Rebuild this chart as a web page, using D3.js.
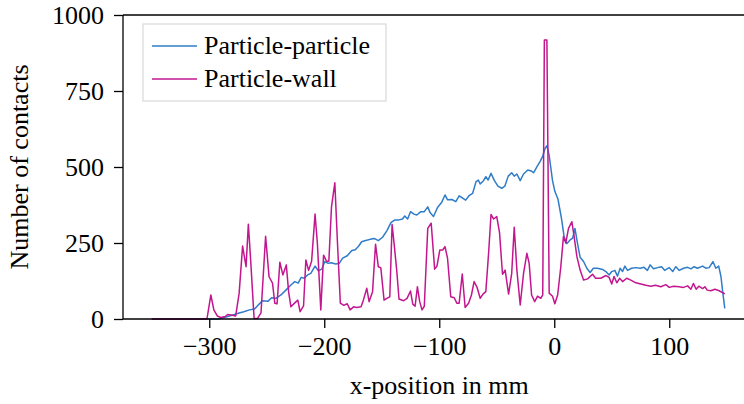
<!DOCTYPE html>
<html>
<head>
<meta charset="utf-8">
<script src="https://cdn.jsdelivr.net/npm/d3@7"></script>
<style>
  body { margin: 0; background: #fff; }
  svg text { font-family: "Liberation Serif", "Times New Roman", serif; fill: #000; }
  .axis path, .axis line { stroke: #000; stroke-width: 1.3; }
</style>
</head>
<body>
<div id="chart"></div>
<script>
//
// contact counts along the x-position
//

var ppX = [-350, -292, -284, -278, -274, -270, -265, -260.6, -256.6, -253.7, -249, -245.8, -242, -237.7, -233.4, -229,
  -225.6, -222.7, -220, -217.5, -214.5, -211.7, -208, -205, -202, -199.5, -196.6, -194, -190, -187, -184, -180, -176,
  -173, -170, -167.5, -164, -160, -156.6, -153, -149.3, -145.6, -142, -138.6, -135, -132, -130, -127.5, -125, -122,
  -119.5, -116, -113, -110, -108, -105, -101.5, -98, -95, -92.8, -89, -85.6, -82.7, -79.7, -77, -74, -71, -68, -66,
  -64.4, -61.5, -59.5, -57.5, -55, -52, -49, -45.6, -43, -40, -37, -34.8, -32.5, -29.6, -26.7, -23, -20, -18, -15,
  -12, -10, -8, -6.4, -4.5, -1.5, 0.5, 3.2, 6.3, 8.6, 11, 13.8, 16, 18, 20.2, 22.5, 25.5, 28.3, 31.2, 34, 37.6, 42,
  44.9, 47.7, 50, 52.7, 55, 57.3, 59.4, 61.4, 63.7, 67.2, 71, 74.7, 78, 81, 83.4, 86.3, 89.8, 93.3, 96, 100, 103,
  105.7, 108.6, 112.4, 116, 118.8, 121.6, 124.6, 129, 131.8, 134.7, 138, 140.5, 143, 145, 146.3, 148.3];
var ppY = [0, 0, 8, 15, 20, 24, 30, 33, 49, 60, 58, 70, 68, 79, 95, 112,
  123, 118, 137, 134, 145, 150, 174, 158, 165, 189, 183, 185, 181, 183, 200, 208, 225,
  228, 240, 254, 258, 262, 265, 258, 269, 290, 317, 326, 326, 329, 339, 329, 353, 345,
  342, 353, 353, 369, 350, 337, 367, 383, 408, 392, 393, 386, 405, 398, 391, 406, 413, 452, 457,
  444, 455, 468, 457, 479, 455, 437, 430, 437, 470, 481, 470, 477, 455, 477, 490, 487, 481, 501,
  520, 536, 561, 570, 540, 455, 420, 395, 330, 270, 248, 260, 266, 298, 249, 203, 189, 167, 153, 167, 167, 163,
  156, 145, 156, 160, 141, 167, 156, 174, 160, 167, 169, 167, 170, 160, 178, 165, 169, 172, 160, 169, 156,
  172, 160, 167, 170, 165, 172, 167, 174, 167, 169, 189, 167, 174, 139, 95, 35];

var pwX = [-350, -302, -298.6, -296, -293, -290, -286, -284, -280, -277, -274, -271, -268, -266, -264, -261, -258, -255,
  -251, -248, -245, -243, -241, -238.6, -236, -233, -231, -229, -225.6, -223, -221, -218, -216, -213.6, -211, -208,
  -206, -203, -200.6, -198, -196, -193.7, -190.8, -188.5, -186, -183, -180, -177.5, -174.5, -171.7, -168, -166, -163,
  -161, -158, -155.4, -153, -150.8, -148, -145.6, -143, -141, -139, -137, -135, -131, -128, -125, -123, -121, -119,
  -117, -115, -113, -110, -107, -104, -102, -99.5, -97, -95, -92.8, -90, -87, -84.7, -82.7, -80, -77.5, -74.5, -72,
  -69.7, -67.3, -64.4, -62, -59.5, -57, -55, -52.8, -50, -47.6, -45, -42.7, -39.7, -37, -34.8, -32.5, -29.6, -26.7,
  -23.8, -21.8, -19.7, -17, -14.5, -11.7, -10, -8.6, -6.4, -4.4, -1.5, 0.5, 3, 5.7, 8, 10, 12.4, 15.3, 17.3, 19.7,
  22.5, 25.5, 29, 33.3, 36, 40.5, 45, 47.7, 50, 52, 54.4, 56.8, 59.4, 63, 66.6, 71, 75.3, 79.7, 84, 88, 92.7, 97,
  100, 104, 108.6, 112.4, 116, 118.8, 121, 123.4, 125.7, 129, 131, 133, 136, 139.7, 143.4, 146.3, 148.3];
var pwY = [0, 0, 79, 30, 10, 5, 8, 15, 12, 10, 85, 240, 172, 312, 194, 2, 2, 20,
  272, 139, 118, 52, 50, 187, 145, 178, 90, 40, 53, 62, 24, 43, 194, 160, 190, 345,
  250, 30, 210, 190, 190, 369, 448, 250, 52, 45, 50, 30, 40, 38, 40, 62, 101,
  57, 90, 246, 172, 168, 62, 68, 73, 311, 238, 161, 66, 60, 68, 92, 49, 42, 106,
  57, 30, 42, 298, 315, 164, 174, 227, 227, 238, 200, 73, 70, 52, 52, 148, 38, 52, 79,
  123, 106, 68, 82, 90, 221, 344, 329, 337, 285, 147, 161, 82, 150, 302, 161, 46, 150,
  216, 183, 79, 57, 75, 68, 79, 918, 918, 85, 75, 50, 80, 172, 271, 250, 298, 320, 271, 205,
  161, 128, 132, 147, 134, 134, 143, 137, 115, 140, 119, 134, 123, 134, 128, 119, 115, 111, 108, 111, 106, 113,
  104, 108, 106, 104, 109, 98, 117, 98, 108, 100, 106, 95, 93, 98, 93, 87, 83];

var seriesNames = ["Particle-particle", "Particle-wall"];
var seriesColors = ["#2f7cc8", "#c2168f"];

var xTicks = [-300, -200, -100, 0, 100];
var yTicks = [0, 250, 500, 750, 1000];

var serif = "'Liberation Serif', 'Times New Roman', serif";

//
// frame: the right edge of the original axis box lies outside the picture
//

var W = 744, H = 404;
var margin = {top: 15, left: 123, bottom: 85};
var plotW = 632.5;
var plotH = H - margin.top - margin.bottom;

var x = d3.scaleLinear().domain([-375, 175]).range([0, plotW]);
var y = d3.scaleLinear().domain([0, 1000]).range([plotH, 0]);

var svg = d3.select("#chart").append("svg")
	.attr("width", W)
	.attr("height", H)
	.style("font-family", serif);

var g = svg.append("g")
	.attr("transform", "translate(" + margin.left + "," + margin.top + ")");

var series = [
	{name: seriesNames[0], color: seriesColors[0], pts: ppX.map(function(v, i) { return [v, ppY[i]]; })},
	{name: seriesNames[1], color: seriesColors[1], pts: pwX.map(function(v, i) { return [v, pwY[i]]; })}
];

var line = d3.line()
	.x(function(d) { return x(d[0]); })
	.y(function(d) { return y(d[1]); });

g.selectAll(".series")
	.data(series)
	.enter().append("path")
	.attr("class", "series")
	.attr("d", function(d) { return line(d.pts); })
	.attr("fill", "none")
	.attr("stroke", function(d) { return d.color; })
	.attr("stroke-width", 1.5)
	.attr("stroke-linejoin", "round");

// axes

var fmt = d3.format("d");

var xAxis = g.append("g")
	.attr("class", "axis")
	.attr("transform", "translate(0," + plotH + ")")
	.call(d3.axisBottom(x).tickValues(xTicks).tickFormat(fmt).tickSize(9).tickPadding(9).tickSizeOuter(0));

var yAxis = g.append("g")
	.attr("class", "axis")
	.call(d3.axisLeft(y).tickValues(yTicks).tickFormat(fmt).tickSize(9).tickPadding(10).tickSizeOuter(0));

g.selectAll(".axis")
	.attr("font-family", serif)
	.attr("font-size", 26);

xAxis.select(".domain").attr("d", "M0,0H" + plotW);
yAxis.select(".domain").attr("d", "M0," + plotH + "V0");

g.append("line")
	.attr("x1", 0).attr("x2", plotW)
	.attr("y1", 0).attr("y2", 0)
	.attr("stroke", "#000")
	.attr("stroke-width", 1.3);

// axis titles

g.append("text")
	.attr("x", plotW / 2)
	.attr("y", plotH + 75)
	.attr("text-anchor", "middle")
	.style("font-size", "26px")
	.text("x-position in mm");

g.append("text")
	.attr("transform", "translate(" + (-95) + "," + (plotH / 2) + ")rotate(-90)")
	.attr("text-anchor", "middle")
	.style("font-size", "26px")
	.text("Number of contacts");

// legend

var legend = svg.append("g")
	.attr("transform", "translate(143,24)");

legend.append("rect")
	.attr("width", 243)
	.attr("height", 77)
	.attr("fill", "#fff")
	.attr("stroke", "#d9d9d9")
	.attr("stroke-width", 1.2);

var item = legend.selectAll(".item")
	.data(series)
	.enter().append("g")
	.attr("class", "item")
	.attr("transform", function(d, i) { return "translate(0," + (22 + i * 33) + ")"; });

item.append("line")
	.attr("x1", 9).attr("x2", 54)
	.attr("stroke", function(d) { return d.color; })
	.attr("stroke-width", 1.5);

item.append("text")
	.attr("x", 61)
	.attr("dy", "0.32em")
	.style("font-size", "26px")
	.text(function(d) { return d.name; });
</script>
</body>
</html>
